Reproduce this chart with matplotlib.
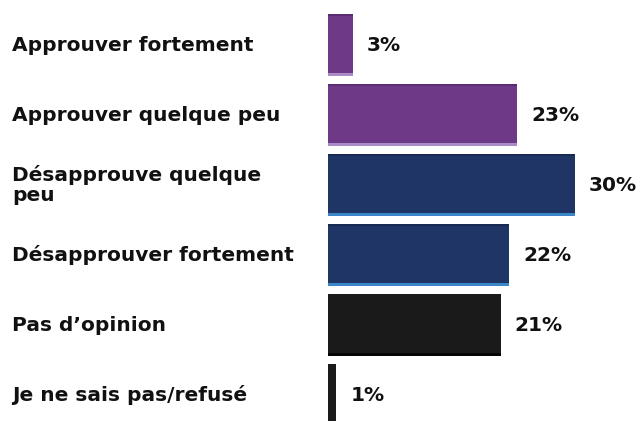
import numpy as np
import matplotlib.pyplot as plt

categories = ["Approuver fortement", "Approuver quelque peu", "Désapprouve quelque\npeu",
              "Désapprouver fortement", "Pas d’opinion", "Je ne sais pas/refusé"]
values = [3, 23, 30, 22, 21, 1]
labels = ["3%", "23%", "30%", "22%", "21%", "1%"]
colors = ["#6e3a88", "#6e3a88", "#1f3566", "#1f3566", "#1a1a1a", "#1a1a1a"]
top_cols = ["#5a2d72", "#5a2d72", "#182a52", "#182a52", "#1a1a1a", "#1a1a1a"]
bot_cols = ["#a98cc6", "#a98cc6", "#3b86c8", "#3b86c8", "#050505", "#050505"]

fig = plt.figure(figsize=(6.42, 4.21), dpi=100)
ax = fig.add_axes([328 / 642, 0, 314 / 642, 1])

y = np.arange(len(values))
h = 0.886
ax.barh(y, values, height=h, color=colors, linewidth=0)
# thin darker top edge and coloured bottom strip
ax.barh(y - h / 2 + 0.015, values, height=0.03, color=top_cols, linewidth=0)
ax.barh(y + h / 2 - 0.022, values, height=0.044, color=bot_cols, linewidth=0)

ax.set_xlim(0, 314 / 8.23)
ax.set_ylim(5.371, -0.643)
ax.axis('off')

tr = ax.get_yaxis_transform()
for i, c in enumerate(categories):
    ax.text(-316 / 314, i, c, transform=tr, ha='left', va='center',
            fontsize=14.5, fontweight='bold', color='#111111',
            linespacing=1.1, clip_on=False)

for i, v in enumerate(values):
    ax.text(v + 1.7, i, labels[i], ha='left', va='center',
            fontsize=14.5, fontweight='bold', color='#111111')

fig.savefig('out.png', dpi=100, facecolor='white')
